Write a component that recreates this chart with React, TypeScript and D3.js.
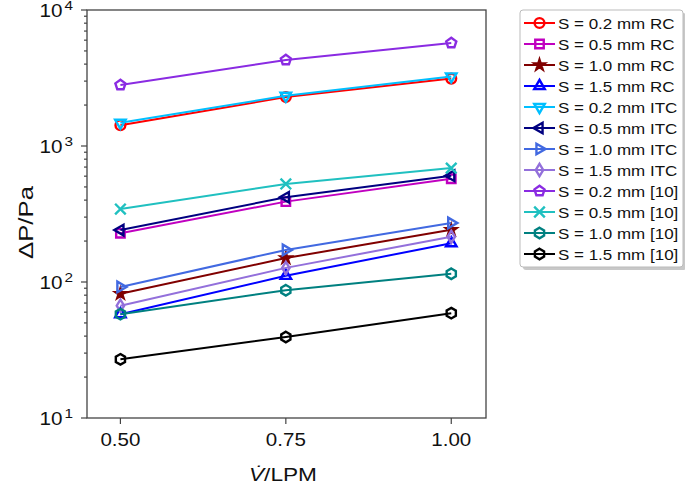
import React from "react";
import * as d3 from "d3";

const flows = [0.5, 0.75, 1.0];
const xTickLabels = ["0.50", "0.75", "1.00"];
const yDecades = [1, 2, 3, 4];

const seriesNames = [
  "S = 0.2 mm RC", "S = 0.5 mm RC", "S = 1.0 mm RC", "S = 1.5 mm RC",
  "S = 0.2 mm ITC", "S = 0.5 mm ITC", "S = 1.0 mm ITC", "S = 1.5 mm ITC",
  "S = 0.2 mm [10]", "S = 0.5 mm [10]", "S = 1.0 mm [10]", "S = 1.5 mm [10]",
];
const seriesColors = [
  "#ff0000", "#c000c0", "#800000", "#0000ff",
  "#00bfff", "#000080", "#4169e1", "#9370db",
  "#8a2be2", "#20c0c0", "#008080", "#000000",
];
const seriesMarkers = [
  "circle", "square", "star", "triUp",
  "triDown", "triLeft", "triRight", "thinDiamond",
  "pentagon", "x", "hexagon", "hexagon",
];

const rc02 = [1420, 2290, 3130];
const rc05 = [228, 390, 575];
const rc10 = [82, 150, 242];
const rc15 = [58, 111, 193];
const itc02 = [1480, 2340, 3250];
const itc05 = [241, 420, 605];
const itc10 = [92, 172, 272];
const itc15 = [67, 127, 215];
const ref02 = [2810, 4290, 5720];
const ref05 = [344, 526, 688];
const ref10 = [58, 87, 115];
const ref15 = [27, 39.4, 59];
const seriesValues = [rc02, rc05, rc10, rc15, itc02, itc05, itc10, itc15, ref02, ref05, ref10, ref15];

const W = 685, H = 488;
const left = 87, right = 486, top = 10, bottom = 418;
const font = "'Liberation Sans', Arial, Helvetica, sans-serif";

const polygon = (n: number, r: number, rot: number) => {
  const pts = d3.range(n).map(i => {
    const a = rot + (i * 2 * Math.PI) / n;
    return [r * Math.sin(a), -r * Math.cos(a)];
  });
  return "M" + pts.map(p => p[0].toFixed(2) + "," + p[1].toFixed(2)).join("L") + "Z";
};

const markerPath = (kind: string, r: number) => {
  switch (kind) {
    case "circle": return d3.symbol(d3.symbolCircle, Math.PI * r * r * 0.85)()!;
    case "square": return `M${-r * 0.8},${-r * 0.8}H${r * 0.8}V${r * 0.8}H${-r * 0.8}Z`;
    case "star": return d3.symbol(d3.symbolStar, r * r * 1.1)()!;
    case "triUp": return polygon(3, r * 1.15, 0);
    case "triDown": return polygon(3, r * 1.15, Math.PI);
    case "triLeft": return polygon(3, r * 1.15, -Math.PI / 2);
    case "triRight": return polygon(3, r * 1.15, Math.PI / 2);
    case "thinDiamond": return `M0,${-r * 1.15}L${r * 0.7},0L0,${r * 1.15}L${-r * 0.7},0Z`;
    case "pentagon": return polygon(5, r, 0);
    case "hexagon": return polygon(6, r, 0);
    case "x": return `M${-r},${-r}L${r},${r}M${-r},${r}L${r},${-r}`;
  }
  return "";
};

const Marker = ({ kind, color, x, y }: { kind: string; color: string; x: number; y: number }) => (
  <path
    d={markerPath(kind, 5.3)}
    transform={`translate(${x},${y})`}
    fill={kind === "star" ? color : "none"}
    stroke={color}
    strokeWidth={2.4}
    strokeLinejoin="miter"
  />
);

export default function App() {
  const x = d3.scaleLinear().domain([0.4495, 1.0525]).range([left, right]);
  const y = d3.scaleLog().domain([10, 10000]).range([bottom, top]);
  const line = d3.line<number>().x((_, i) => x(flows[i])).y(d => y(d));
  const yTicks = y.ticks();

  const legX = 520, legY = 10, legW = 163, legH = 257, rowH = 21;

  return (
    <div style={{ position: "absolute", left: 0, top: 0 }}>
      <svg width={W} height={H} style={{ display: "block", background: "#fff" }}>
        {/* series */}
        {seriesValues.map((vals, s) => (
          <g key={s}>
            <path d={line(vals)!} fill="none" stroke={seriesColors[s]} strokeWidth={2} />
            {vals.map((v, i) => (
              <Marker key={i} kind={seriesMarkers[s]} color={seriesColors[s]} x={x(flows[i])} y={y(v)} />
            ))}
          </g>
        ))}

        {/* frame */}
        <rect x={left} y={top} width={right - left} height={bottom - top} fill="none" stroke="#444" strokeWidth={1.3} />

        {/* y axis ticks */}
        {yTicks.map((t, i) => {
          const major = Math.abs(Math.log10(t) - Math.round(Math.log10(t))) < 1e-9;
          return (
            <line key={i} x1={left} x2={left - (major ? 6 : 3)} y1={y(t)} y2={y(t)} stroke="#444" strokeWidth={1.2} />
          );
        })}
        {yDecades.map(p => (
          <g key={p}>
            <text x={39.5} y={y(Math.pow(10, p)) + 6.5} fontFamily={font} fontSize={17.5} fill="#111" textLength={23} lengthAdjust="spacingAndGlyphs">
              10
            </text>
            <text x={64.5} y={y(Math.pow(10, p)) - 0.5} fontFamily={font} fontSize={12.5} fill="#111" textLength={8.5} lengthAdjust="spacingAndGlyphs">
              {p}
            </text>
          </g>
        ))}

        {/* x axis ticks */}
        {flows.map((f, i) => (
          <g key={i}>
            <line x1={x(f)} x2={x(f)} y1={bottom} y2={bottom + 6} stroke="#444" strokeWidth={1.2} />
            <text x={x(f) - 20} y={bottom + 28} fontFamily={font} fontSize={17.5} fill="#111" textLength={40} lengthAdjust="spacingAndGlyphs">
              {xTickLabels[i]}
            </text>
          </g>
        ))}

        {/* axis labels */}
        <text x={249} y={481} fontFamily={font} fontSize={18} fill="#111" textLength={68} lengthAdjust="spacingAndGlyphs">
          <tspan fontStyle="italic">V̇</tspan>/LPM
        </text>
        <text transform={`translate(33,259) rotate(-90)`} fontFamily={font} fontSize={19.5} fill="#111" textLength={73} lengthAdjust="spacingAndGlyphs">
          ΔP/Pa
        </text>

        {/* legend */}
        <rect x={legX + 3} y={legY + 3} width={legW} height={legH} rx={3} fill="#c8c8c8" />
        <rect x={legX} y={legY} width={legW} height={legH} rx={3} fill="#fff" stroke="#bbb" strokeWidth={1} />
        {seriesNames.map((name, s) => {
          const cy = legY + 13 + s * rowH;
          return (
            <g key={s}>
              <line x1={legX + 4} x2={legX + 35} y1={cy} y2={cy} stroke={seriesColors[s]} strokeWidth={2} />
              <Marker kind={seriesMarkers[s]} color={seriesColors[s]} x={legX + 19.5} y={cy} />
              <text transform={`translate(${legX + 38},${cy + 5.5}) scale(1.11,1)`} fontFamily={font} fontSize={15.3} fill="#111">{name}</text>
            </g>
          );
        })}
      </svg>
    </div>
  );
}
